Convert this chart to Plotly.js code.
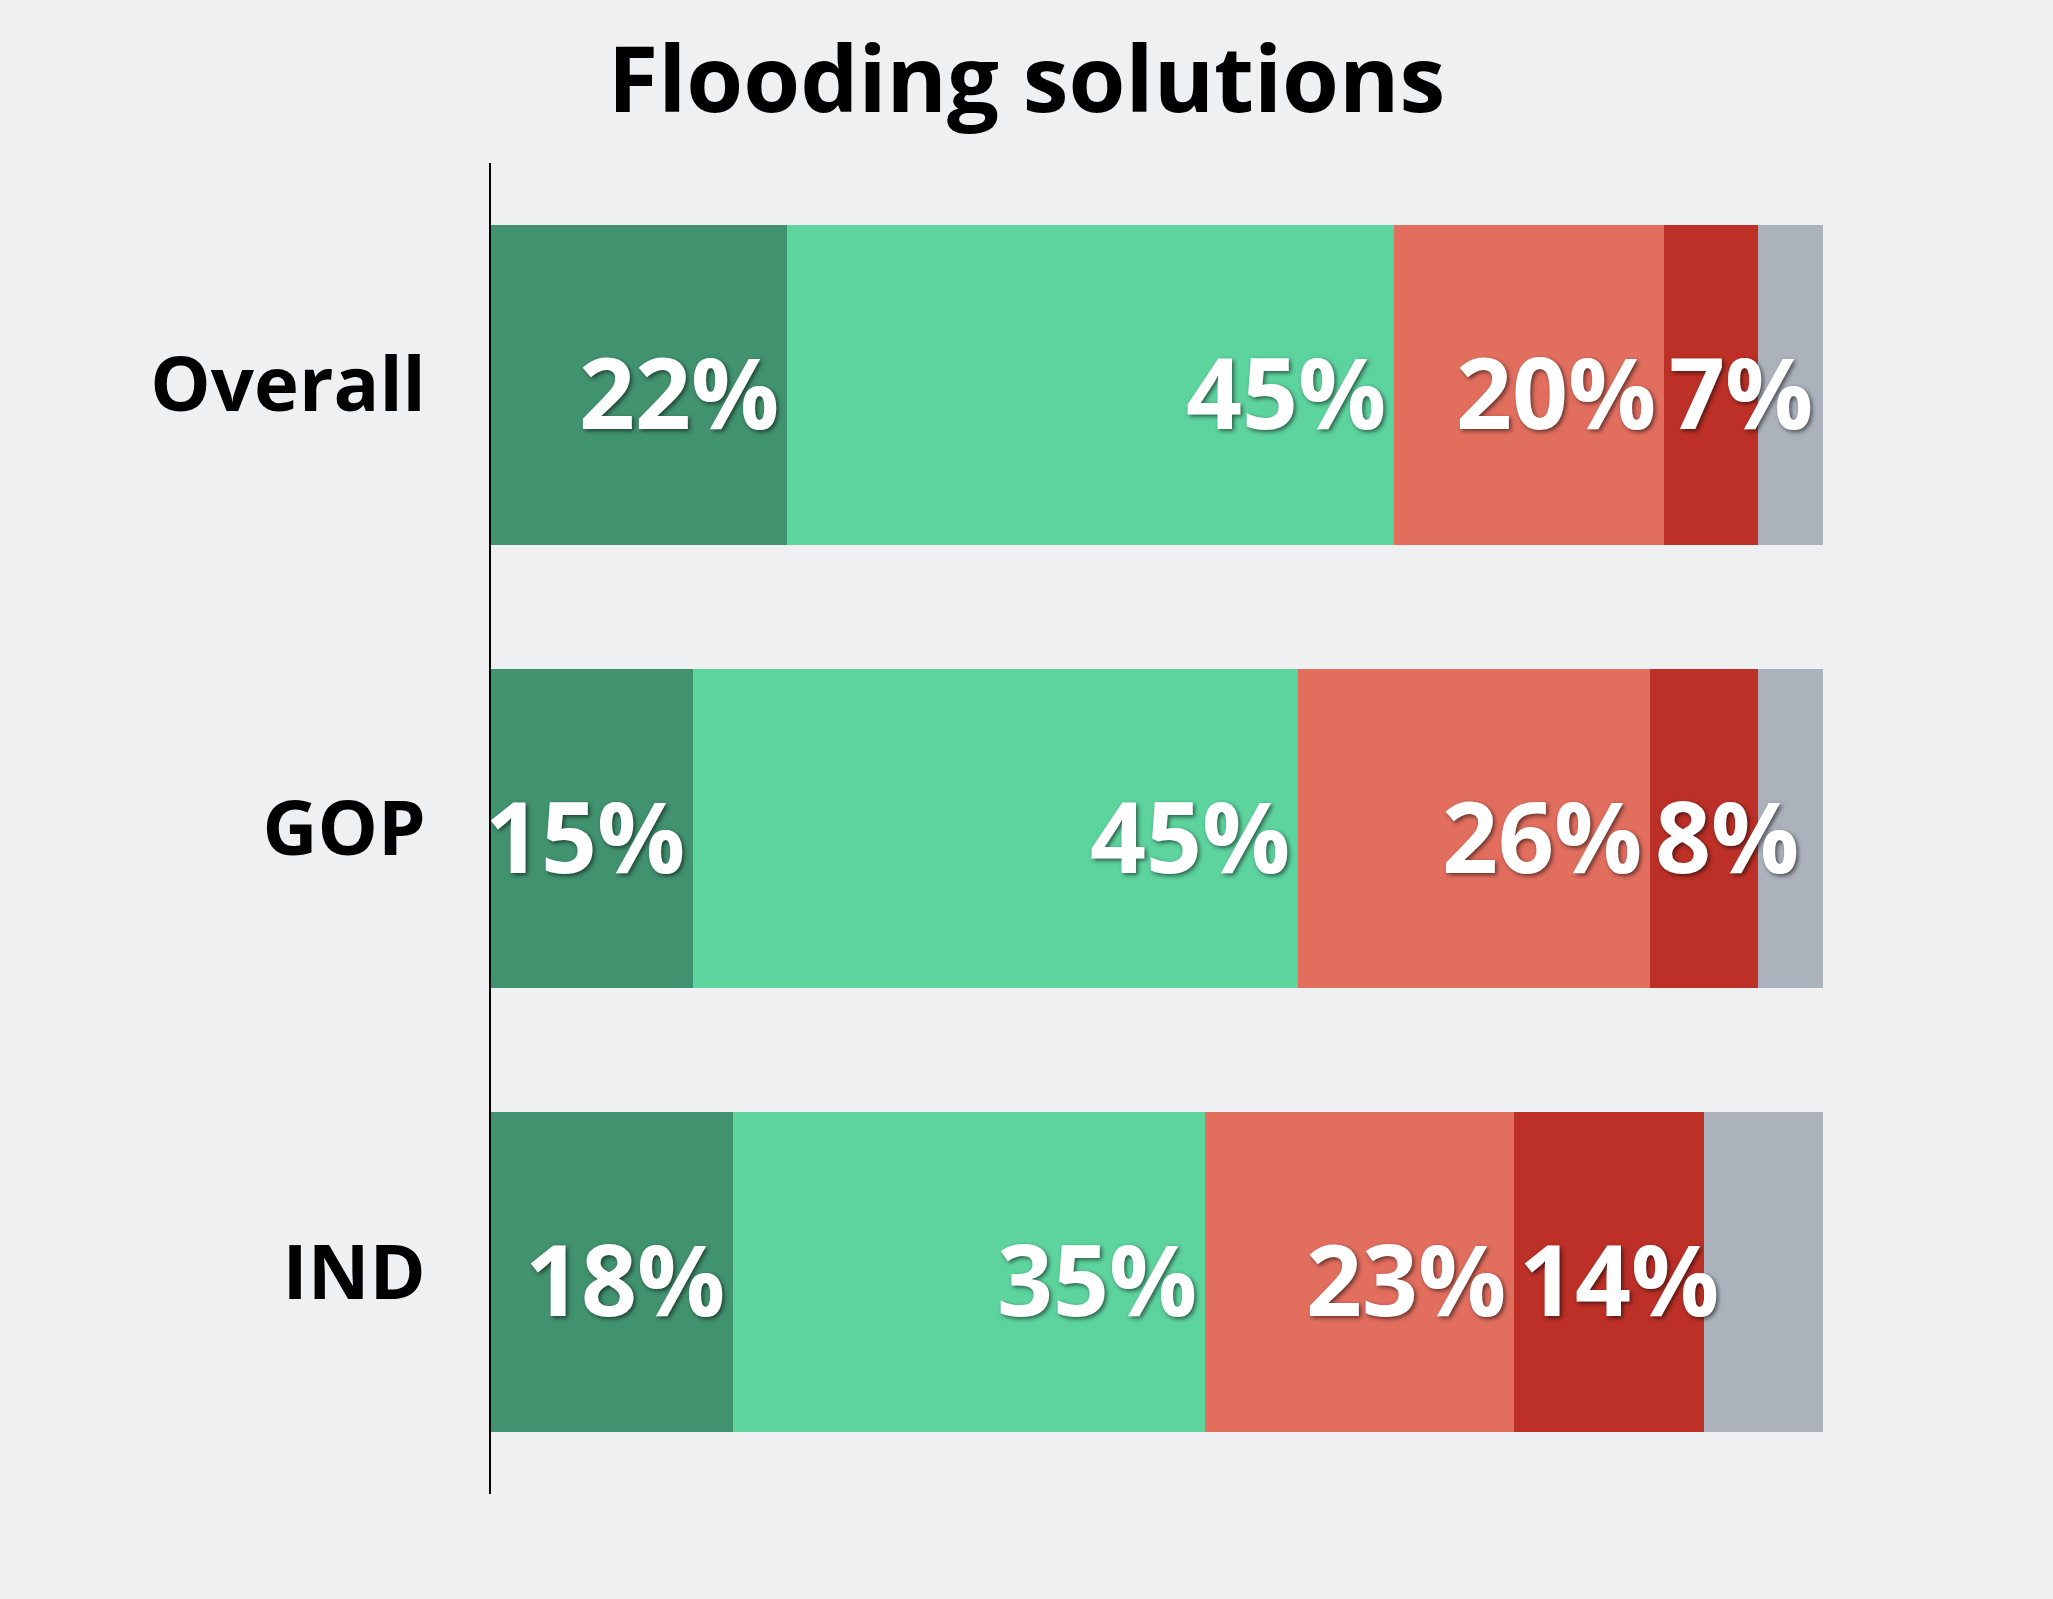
<!DOCTYPE html>
<html>
<head>
<meta charset="utf-8">
<script src="https://cdn.plot.ly/plotly-3.0.1.min.js"></script>
<style>html,body{margin:0;padding:0;background:#eff0f2;}</style>
</head>
<body>
<div id="chart" style="width:2053px;height:1599px;"></div>
<script>
// Data
const categories = ['Overall', 'GOP', 'IND'];
const seriesNames = ['Strongly support', 'Somewhat support', 'Somewhat oppose', 'Strongly oppose', 'Not sure'];
const stronglySupport = [22.2, 15.2, 18.2];
const somewhatSupport = [45.6, 45.4, 35.4];
const somewhatOppose = [20.3, 26.4, 23.2];
const stronglyOppose = [7.0, 8.1, 14.3];
const notSure = [4.9, 4.9, 8.9];
const labelsStronglySupport = ['22%', '15%', '18%'];
const labelsSomewhatSupport = ['45%', '45%', '35%'];
const labelsSomewhatOppose = ['20%', '26%', '23%'];
const labelsStronglyOppose = ['7%', '8%', '14%'];
const labelsNotSure = ['', '', ''];

const seriesValues = [stronglySupport, somewhatSupport, somewhatOppose, stronglyOppose, notSure];
const seriesLabels = [labelsStronglySupport, labelsSomewhatSupport, labelsSomewhatOppose, labelsStronglyOppose, labelsNotSure];
const colors = ['#41926f', '#5dd39e', '#e26e5e', '#bc3027', '#abb2bc'];

const FONT = '"Open Sans", Roboto, "DejaVu Sans", sans-serif';

const traces = seriesValues.map((vals, k) => ({
  type: 'bar',
  orientation: 'h',
  name: seriesNames[k],
  y: categories,
  x: vals,
  marker: {color: colors[k], line: {width: 0}},
  hoverinfo: 'skip',
  showlegend: false
}));

const annotations = [];
categories.forEach((cat, i) => {
  let cum = 0;
  seriesValues.forEach((vals, k) => {
    const start = cum;
    cum += vals[i];
    const txt = seriesLabels[k][i];
    if (!txt) return;
    const narrow = vals[i] < 15;
    annotations.push({
      xref: 'x', yref: 'y',
      x: narrow ? start : cum,
      y: cat,
      xanchor: narrow ? 'left' : 'right',
      yanchor: 'middle',
      xshift: narrow ? 3 : -6,
      yshift: -6,
      text: txt,
      showarrow: false,
      font: {family: FONT, size: 98, weight: 700, color: '#ffffff',
             shadow: '2px 2px 4px rgba(0,0,0,0.55)'}
    });
  });
});

const layout = {
  width: 2053,
  height: 1599,
  paper_bgcolor: '#eff0f2',
  plot_bgcolor: '#eff0f2',
  margin: {l: 491, r: 230, t: 163, b: 105, pad: 0},
  barmode: 'stack',
  bargap: 0.28,
  showlegend: false,
  title: {
    text: 'Flooding solutions',
    x: 0.5, xref: 'container', xanchor: 'center',
    y: 0.95, yref: 'container', yanchor: 'middle',
    font: {family: FONT, size: 92, weight: 700, color: '#000000'}
  },
  xaxis: {
    visible: false,
    range: [0, 100],
    fixedrange: true
  },
  yaxis: {
    autorange: 'reversed',
    showline: true,
    linecolor: '#000000',
    linewidth: 2,
    showgrid: false,
    zeroline: false,
    ticks: 'outside',
    ticklen: 48,
    tickcolor: 'rgba(0,0,0,0)',
    tickfont: {family: FONT, size: 76, weight: 700, color: '#000000'},
    fixedrange: true
  },
  annotations: annotations
};

Plotly.newPlot('chart', traces, layout, {displayModeBar: false, staticPlot: true});
</script>
</body>
</html>
